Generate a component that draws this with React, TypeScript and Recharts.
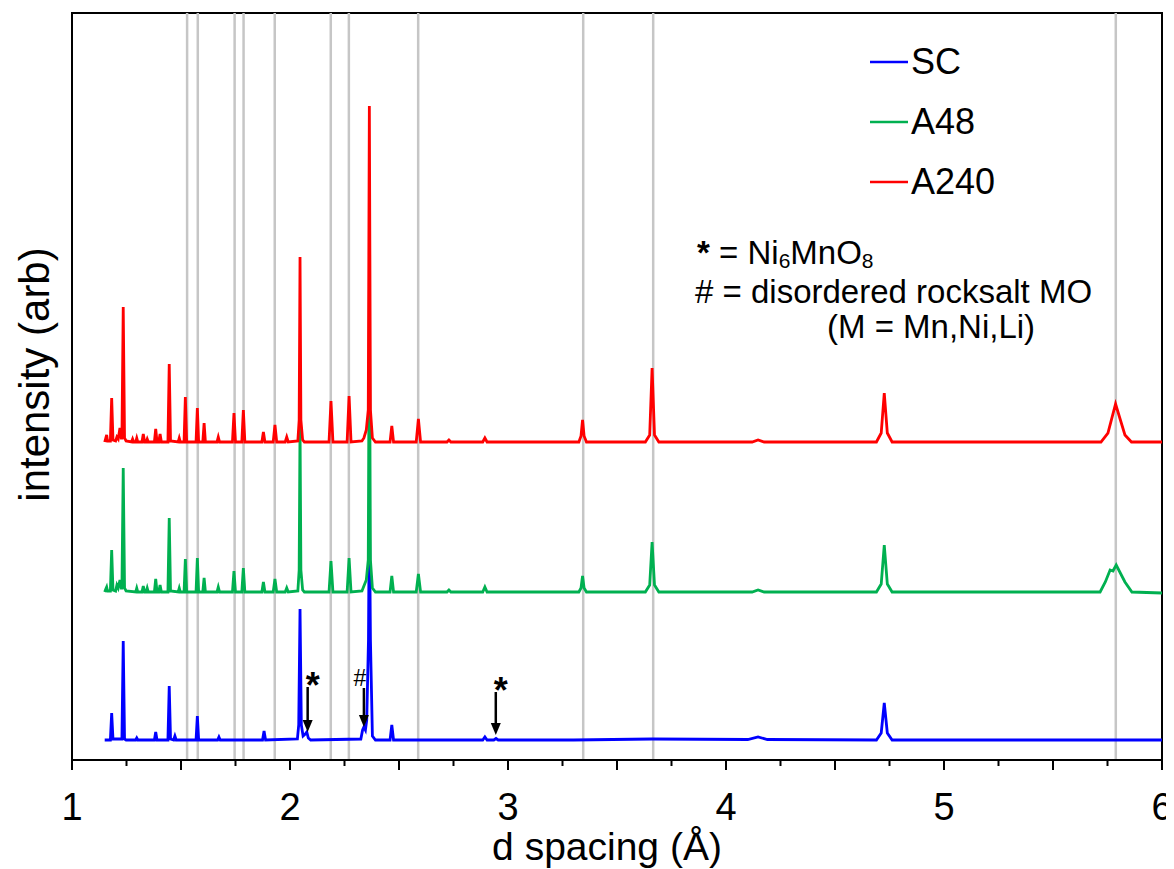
import React from 'react';
import { LineChart, Line, XAxis, YAxis, ReferenceLine, ReferenceArea, Legend, Label } from 'recharts';

const FONT = '"Liberation Sans", Arial, sans-serif';

// d spacing (Å) vs intensity (arb), offsets already included in the values
const scPattern: [number, number][] = [
  [1.15, 20],
  [1.176, 20], [1.182, 47], [1.188, 21],
  [1.229, 21], [1.235, 119], [1.241, 21], [1.248, 20],
  [1.292, 20], [1.297, 22], [1.302, 20],
  [1.378, 20], [1.384, 28], [1.39, 20],
  [1.44, 20], [1.446, 74], [1.452, 21], [1.466, 20], [1.472, 24], [1.478, 20],
  [1.569, 20], [1.575, 44], [1.581, 20],
  [1.668, 20], [1.674, 23], [1.68, 20],
  [1.874, 20], [1.881, 29], [1.888, 20],
  [2.034, 21], [2.04, 35], [2.046, 151], [2.052, 35], [2.06, 24], [2.07, 26], [2.077, 28], [2.084, 22], [2.095, 20],
  [2.325, 21], [2.333, 30], [2.339, 33], [2.346, 30], [2.352, 40], [2.36, 120], [2.364, 255], [2.369, 120], [2.378, 24], [2.392, 20],
  [2.459, 20], [2.467, 35], [2.475, 20],
  [2.884, 20], [2.894, 23], [2.904, 20], [2.935, 20], [2.945, 21.5], [2.955, 20],
  [3.3, 20], [3.66, 21], [4.1, 20.5], [4.147, 23], [4.19, 20.5],
  [4.69, 20], [4.712, 27], [4.726, 57], [4.74, 27], [4.762, 20],
  [6.0, 20],
];

const a48Pattern: [number, number][] = [
  [1.15, 168],
  [1.155, 171], [1.159, 173], [1.163, 169],
  [1.176, 169], [1.182, 210], [1.188, 170],
  [1.2, 169], [1.206, 175], [1.212, 172], [1.22, 180], [1.226, 172],
  [1.229, 172], [1.235, 292], [1.241, 172], [1.248, 169],
  [1.292, 168], [1.297, 172], [1.302, 168],
  [1.321, 168], [1.327, 174], [1.333, 168],
  [1.34, 168], [1.345, 172], [1.35, 168],
  [1.378, 168], [1.384, 181], [1.39, 168],
  [1.398, 168], [1.404, 175], [1.41, 168],
  [1.44, 168], [1.446, 242], [1.452, 169],
  [1.487, 168], [1.492, 172], [1.497, 168],
  [1.514, 168], [1.52, 201], [1.526, 168],
  [1.569, 168], [1.575, 202], [1.581, 168],
  [1.6, 168], [1.606, 182], [1.612, 168],
  [1.665, 168], [1.671, 173], [1.677, 168],
  [1.736, 168], [1.743, 189], [1.75, 168],
  [1.779, 168], [1.786, 192], [1.793, 168],
  [1.871, 168], [1.878, 178], [1.885, 168],
  [1.923, 168], [1.931, 181], [1.939, 168],
  [1.978, 168], [1.985, 172], [1.992, 168],
  [2.036, 169], [2.042, 190], [2.046, 335], [2.05, 190], [2.058, 170], [2.066, 168],
  [2.179, 168], [2.188, 199], [2.197, 168],
  [2.262, 168], [2.271, 202], [2.28, 168],
  [2.33, 169], [2.339, 174], [2.35, 180], [2.359, 200], [2.364, 470], [2.369, 200], [2.378, 172], [2.392, 168],
  [2.459, 168], [2.467, 184], [2.475, 168],
  [2.579, 168], [2.589, 186], [2.599, 168],
  [2.72, 168], [2.729, 170], [2.738, 168],
  [2.884, 168], [2.894, 173], [2.904, 168],
  [3.325, 168], [3.335, 172], [3.342, 184], [3.349, 172], [3.36, 168],
  [3.63, 168], [3.65, 175], [3.661, 218], [3.672, 175], [3.692, 168],
  [4.12, 168], [4.147, 170], [4.175, 168],
  [4.69, 168], [4.712, 176], [4.726, 215], [4.74, 176], [4.762, 168],
  [5.716, 168], [5.74, 178], [5.762, 190], [5.775, 189], [5.79, 195], [5.83, 178], [5.862, 168],
  [6.0, 167],
];

const a240Pattern: [number, number][] = [
  [1.15, 318],
  [1.155, 322], [1.159, 325], [1.163, 319],
  [1.176, 319], [1.182, 362], [1.188, 320],
  [1.2, 319], [1.206, 323], [1.212, 321], [1.22, 332], [1.226, 322],
  [1.229, 322], [1.235, 453], [1.241, 322], [1.248, 319],
  [1.273, 318], [1.278, 321], [1.283, 318],
  [1.292, 318], [1.297, 322], [1.302, 318],
  [1.321, 318], [1.327, 326], [1.333, 318],
  [1.34, 318], [1.345, 321], [1.35, 318],
  [1.378, 318], [1.384, 331], [1.39, 318],
  [1.398, 318], [1.404, 326], [1.41, 318],
  [1.44, 318], [1.446, 396], [1.452, 319],
  [1.487, 318], [1.492, 322], [1.497, 318],
  [1.514, 318], [1.52, 363], [1.526, 318],
  [1.569, 318], [1.575, 352], [1.581, 318],
  [1.6, 318], [1.606, 337], [1.612, 318],
  [1.665, 318], [1.671, 323], [1.677, 318],
  [1.736, 318], [1.743, 347], [1.75, 318],
  [1.779, 318], [1.786, 350], [1.793, 318],
  [1.871, 318], [1.878, 328], [1.885, 318],
  [1.923, 318], [1.931, 335], [1.939, 318],
  [1.978, 318], [1.985, 323], [1.992, 318],
  [2.036, 319], [2.042, 340], [2.046, 503], [2.05, 340], [2.058, 320], [2.066, 318],
  [2.179, 318], [2.188, 359], [2.197, 318],
  [2.262, 318], [2.271, 364], [2.28, 318],
  [2.33, 319], [2.339, 322], [2.35, 330], [2.359, 350], [2.364, 654], [2.369, 350], [2.378, 322], [2.392, 318],
  [2.459, 318], [2.467, 334], [2.475, 318],
  [2.579, 318], [2.589, 341], [2.599, 318],
  [2.72, 318], [2.729, 320], [2.738, 318],
  [2.884, 318], [2.894, 322], [2.904, 318],
  [3.325, 318], [3.335, 324], [3.342, 340], [3.349, 324], [3.36, 318],
  [3.63, 318], [3.65, 325], [3.661, 392], [3.672, 325], [3.692, 318],
  [4.12, 318], [4.147, 320], [4.175, 318],
  [4.69, 318], [4.712, 327], [4.726, 367], [4.74, 327], [4.762, 318],
  [5.72, 318], [5.752, 327], [5.787, 356], [5.83, 325], [5.86, 318],
  [6.0, 318],
];

const seriesNames = ['SC', 'A48', 'A240'];
const seriesColors = ['#0000FF', '#00B050', '#FF0000'];
const patterns = [scPattern, a48Pattern, a240Pattern];

// reference peak positions (grey lines)
const refPeaks = [1.528, 1.577, 1.746, 1.787, 1.93, 2.187, 2.27, 2.588, 3.345, 3.666, 5.788];

const xTicks = [1, 1.25, 1.5, 1.75, 2, 2.25, 2.5, 2.75, 3, 3.25, 3.5, 3.75, 4, 4.25, 4.5, 4.75, 5, 5.25, 5.5, 5.75, 6];

// impurity markers on the SC pattern: position, arrow top, arrow tip, symbol
const markers = [
  { d: 2.081, top: 73, tip: 28, sym: '*' },
  { d: 2.339, top: 72, tip: 33, sym: '#' },
  { d: 2.944, top: 68, tip: 25, sym: '*' },
];

const toRows = (pts: [number, number][]) => pts.map(([d, i]) => ({ d, i }));

function DTick(props: any) {
  const { x, y, payload } = props;
  const v = payload.value as number;
  const len = v % 0.5 === 0 ? 10 : 6;
  return (
    <g>
      <line x1={x} x2={x} y1={y} y2={y + len} stroke="#000" strokeWidth={2} />
      {Number.isInteger(v) && (
        <text x={x} y={y + 60} textAnchor="middle" fontSize={38} fontFamily={FONT} fill="#000">
          {v}
        </text>
      )}
    </g>
  );
}

function ArrowShape(props: any) {
  const { x1, y1, x2, y2, sym } = props;
  const star = sym === '*';
  return (
    <g>
      <line x1={x1} y1={y1} x2={x2} y2={y2 - 10} stroke="#000" strokeWidth={2.5} />
      <polygon points={`${x2 - 5},${y2 - 12} ${x2 + 5},${y2 - 12} ${x2},${y2}`} fill="#000" />
      <text
        x={x1 + (star ? 5 : -4)}
        y={star ? y1 + 11 : y1 - 2}
        textAnchor="middle"
        fontSize={star ? 36 : 23}
        fontWeight={star ? 'bold' : 'normal'}
        fontFamily={FONT}
        fill="#000"
      >
        {sym}
      </text>
    </g>
  );
}

const renderLegend = () => (
  <div style={{ fontFamily: FONT, color: '#000' }}>
    {seriesNames.map((name, k) => (
      <div key={name} style={{ display: 'flex', alignItems: 'center', height: 60 }}>
        <svg width={40} height={6}>
          <line x1={0} x2={38} y1={3} y2={3} stroke={seriesColors[k]} strokeWidth={2.5} />
        </svg>
        <span style={{ fontSize: 36, lineHeight: '36px', marginLeft: 1 }}>{name}</span>
      </div>
    ))}
  </div>
);

export default function App() {
  return (
    <div style={{ position: 'relative', width: 1166, height: 861, fontFamily: FONT }}>
      <LineChart width={1166} height={861} margin={{ top: 5, right: 12, bottom: 9, left: 0 }}>
        <XAxis
          type="number"
          dataKey="d"
          domain={[1, 6]}
          allowDataOverflow
          ticks={xTicks}
          interval={0}
          height={100}
          tickSize={0}
          tickMargin={0}
          tickLine={false}
          tick={<DTick />}
          axisLine={{ stroke: '#000', strokeWidth: 2 }}
        >
          <Label
            content={(p: any) => (
              <text
                x={p.viewBox.x + p.viewBox.width / 2 - 10}
                y={p.viewBox.y + 100}
                textAnchor="middle"
                fontSize={39}
                fontFamily={FONT}
                fill="#000"
              >
                d spacing (Å)
              </text>
            )}
          />
        </XAxis>
        <YAxis
          type="number"
          domain={[0, 747]}
          allowDataOverflow
          width={64}
          tick={false}
          tickLine={false}
          axisLine={{ stroke: '#000', strokeWidth: 2 }}
        >
          <Label
            content={(p: any) => {
              const cx = p.viewBox.x + 26;
              const cy = p.viewBox.y + p.viewBox.height / 2 - 12;
              return (
                <text
                  x={cx}
                  y={cy}
                  transform={`rotate(-90, ${cx}, ${cy})`}
                  textAnchor="middle"
                  dominantBaseline="central"
                  fontSize={42}
                  fontFamily={FONT}
                  fill="#000"
                >
                  intensity (arb)
                </text>
              );
            }}
          />
        </YAxis>
        <ReferenceArea x1={1} x2={6} y1={0} y2={747} fill="none" stroke="#000" strokeWidth={2} ifOverflow="visible" />
        {refPeaks.map((d) => (
          <ReferenceLine key={d} x={d} stroke="#C6C6C6" strokeWidth={2.5} />
        ))}
        {patterns.map((pts, k) => (
          <Line
            key={seriesNames[k]}
            name={seriesNames[k]}
            data={toRows(pts)}
            dataKey="i"
            type="linear"
            stroke={seriesColors[k]}
            strokeWidth={2.8}
            dot={false}
            activeDot={false}
            isAnimationActive={false}
          />
        ))}
        {markers.map((m) => (
          <ReferenceLine
            key={m.d}
            segment={[{ x: m.d, y: m.top }, { x: m.d, y: m.tip }]}
            shape={(p: any) => <ArrowShape {...p} sym={m.sym} />}
          />
        ))}
        <Legend
          layout="vertical"
          align="center"
          verticalAlign="middle"
          wrapperStyle={{ top: 24, left: 862, width: 200, height: 180 }}
          content={renderLegend}
        />
      </LineChart>
      <svg
        width={1166}
        height={861}
        style={{ position: 'absolute', left: 0, top: 0, pointerEvents: 'none' }}
        fontFamily={FONT}
        fontSize={33}
        fill="#000"
      >
        <text x={689} y={256}>
          <tspan fontWeight="bold">*</tspan>
          {' = Ni'}
          <tspan dy={4} fontSize={21}>6</tspan>
          <tspan dy={-4}>MnO</tspan>
          <tspan dy={4} fontSize={21}>8</tspan>
        </text>
        <text x={687} y={295}>{'# = disordered rocksalt MO'}</text>
        <text x={819} y={330}>{'(M = Mn,Ni,Li)'}</text>
      </svg>
    </div>
  );
}
